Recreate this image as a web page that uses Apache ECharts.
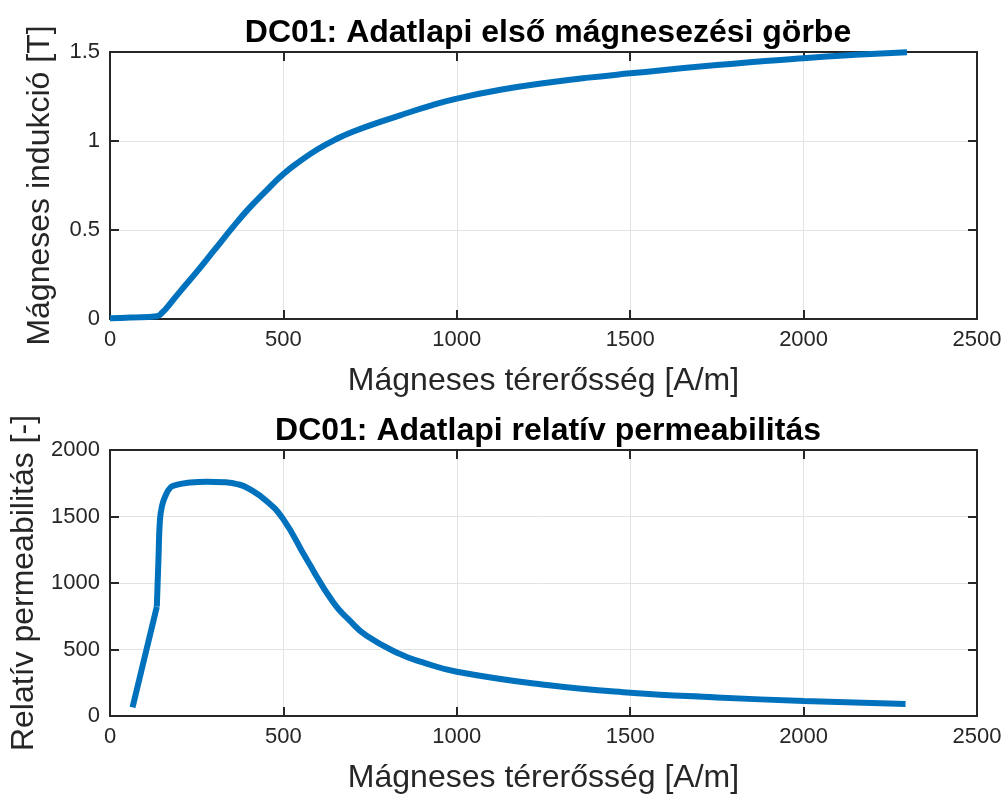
<!DOCTYPE html>
<html>
<head>
<meta charset="utf-8">
<script src="https://cdn.jsdelivr.net/npm/echarts@6/dist/echarts.min.js"></script>
<style>
  html, body { margin: 0; padding: 0; background: #fff; }
  #chart { width: 1006px; height: 796px; }
</style>
</head>
<body>
<div id="chart"></div>
<script>
// First magnetisation curve of DC01 steel: field strength H [A/m] and induction B [T]
const magH = [0, 60, 135, 150, 175, 200, 250, 300, 356, 400, 450, 500, 550, 600, 650, 700, 779, 850, 925, 1000, 1130, 1260, 1380, 1500, 1750, 2000, 2150, 2298];
const magB = [0.004, 0.008, 0.015, 0.035, 0.09, 0.15, 0.265, 0.385, 0.52, 0.62, 0.72, 0.815, 0.89, 0.955, 1.008, 1.052, 1.107, 1.153, 1.199, 1.238, 1.289, 1.327, 1.356, 1.38, 1.427, 1.465, 1.484, 1.499];

// Relative permeability of DC01 versus field strength
const permH = [65, 135, 140, 144, 150, 159, 175, 192, 220, 279, 330, 370, 400, 452, 500, 567, 644, 690, 740, 837, 900, 1000, 1260, 1500, 1750, 2000, 2294];
const permMu = [65, 822, 1200, 1474, 1580, 1650, 1720, 1737, 1752, 1762, 1758, 1742, 1710, 1615, 1478, 1178, 853, 720, 603, 465, 405, 333, 233, 175, 140, 113, 90];

// Axis ranges and tick spacing
const xRange = [0, 2500, 500];
const bRange = [0, 1.5, 0.5];
const muRange = [0, 2000, 500];

const titles = ['DC01: Adatlapi első mágnesezési görbe', 'DC01: Adatlapi relatív permeabilitás'];
const xName = 'Mágneses térerősség [A/m]';
const yNames = ['Mágneses indukció [T]', 'Relatív permeabilitás [-]'];

const FONT = '"Liberation Sans", Arial, Helvetica, sans-serif';
const AXIS_COLOR = '#262626';
const GRID_COLOR = '#e3e3e3';
const LINE_COLOR = '#0072BD';

function zip(a, b) { return a.map((v, i) => [v, b[i]]); }
const plain = v => String(v);

function mainX(grid) {
  return {
    type: 'value', gridIndex: grid, position: 'bottom',
    min: xRange[0], max: xRange[1], interval: xRange[2],
    name: xName, nameLocation: 'middle', nameGap: 46,
    nameTextStyle: { fontFamily: FONT, fontSize: 32, color: AXIS_COLOR },
    axisLine: { show: true, onZero: false, lineStyle: { color: AXIS_COLOR, width: 2 } },
    axisTick: { show: true, inside: true, length: 9, lineStyle: { color: AXIS_COLOR, width: 2 } },
    axisLabel: { fontFamily: FONT, fontSize: 22, color: AXIS_COLOR, margin: 10, formatter: plain },
    splitLine: { show: true, lineStyle: { color: GRID_COLOR, width: 1 } }
  };
}
function mirrorX(grid) {
  return {
    type: 'value', gridIndex: grid, position: 'top',
    min: xRange[0], max: xRange[1], interval: xRange[2],
    axisLine: { show: true, onZero: false, lineStyle: { color: AXIS_COLOR, width: 2 } },
    axisTick: { show: true, inside: true, length: 9, lineStyle: { color: AXIS_COLOR, width: 2 } },
    axisLabel: { show: false },
    splitLine: { show: false }
  };
}
function mainY(grid, range, name, gap) {
  return {
    type: 'value', gridIndex: grid, position: 'left',
    min: range[0], max: range[1], interval: range[2],
    name: name, nameLocation: 'middle', nameGap: gap,
    nameTextStyle: { fontFamily: FONT, fontSize: 32, color: AXIS_COLOR },
    axisLine: { show: true, onZero: false, lineStyle: { color: AXIS_COLOR, width: 2 } },
    axisTick: { show: true, inside: true, length: 9, lineStyle: { color: AXIS_COLOR, width: 2 } },
    axisLabel: { fontFamily: FONT, fontSize: 22, color: AXIS_COLOR, margin: 10, formatter: plain },
    splitLine: { show: true, lineStyle: { color: GRID_COLOR, width: 1 } }
  };
}
function mirrorY(grid, range) {
  return {
    type: 'value', gridIndex: grid, position: 'right',
    min: range[0], max: range[1], interval: range[2],
    axisLine: { show: true, onZero: false, lineStyle: { color: AXIS_COLOR, width: 2 } },
    axisTick: { show: true, inside: true, length: 9, lineStyle: { color: AXIS_COLOR, width: 2 } },
    axisLabel: { show: false },
    splitLine: { show: false }
  };
}

const curveStyle = { color: LINE_COLOR, width: 6, join: 'round', cap: 'butt' };

const chart = echarts.init(document.getElementById('chart'), null, { renderer: 'canvas' });
chart.setOption({
  animation: false,
  backgroundColor: '#ffffff',
  title: [
    { text: titles[0], left: 543, top: 12, textAlign: 'center',
      textStyle: { fontFamily: FONT, fontSize: 32, fontWeight: 'bold', color: '#000' } },
    { text: titles[1], left: 543, top: 410, textAlign: 'center',
      textStyle: { fontFamily: FONT, fontSize: 32, fontWeight: 'bold', color: '#000' } }
  ],
  grid: [
    { left: 110, top: 52, width: 867, height: 267, containLabel: false, outerBoundsMode: 'none' },
    { left: 110, top: 450, width: 867, height: 266, containLabel: false, outerBoundsMode: 'none' }
  ],
  xAxis: [mainX(0), mirrorX(0), mainX(1), mirrorX(1)],
  yAxis: [mainY(0, bRange, yNames[0], 54), mirrorY(0, bRange), mainY(1, muRange, yNames[1], 66), mirrorY(1, muRange)],
  series: [
    { type: 'line', xAxisIndex: 0, yAxisIndex: 0, data: zip(magH, magB),
      showSymbol: false, smooth: 0.5, lineStyle: curveStyle },
    // straight rising segment up to the knee of the permeability curve
    { type: 'line', xAxisIndex: 2, yAxisIndex: 2, data: zip(permH.slice(0, 2), permMu.slice(0, 2)),
      showSymbol: false, smooth: false, lineStyle: curveStyle },
    { type: 'line', xAxisIndex: 2, yAxisIndex: 2, data: zip(permH.slice(1), permMu.slice(1)),
      showSymbol: false, smooth: 0.5, lineStyle: curveStyle }
  ]
});
</script>
</body>
</html>
